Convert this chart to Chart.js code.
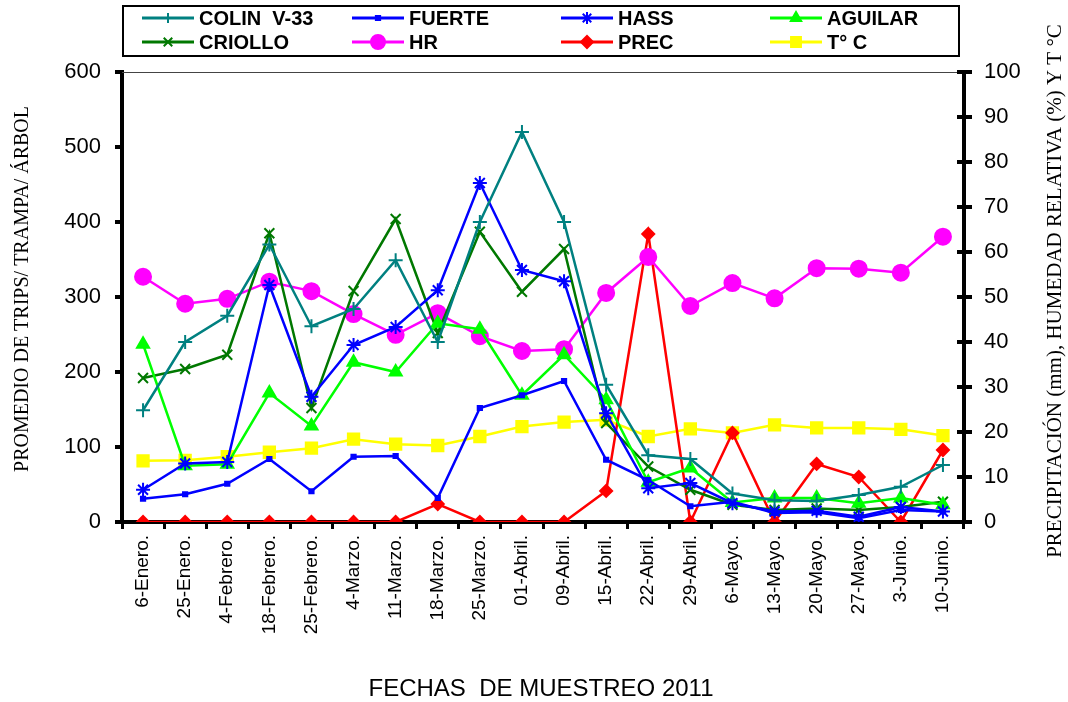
<!DOCTYPE html>
<html>
<head>
<meta charset="utf-8">
<script src="https://cdn.jsdelivr.net/npm/chart.js@4"></script>
<style>
  html, body { margin: 0; padding: 0; background: #fff; }
  #wrap { width: 1068px; height: 702px; }
</style>
</head>
<body>
<div id="wrap"><canvas id="chart" width="1068" height="702"></canvas></div>
<script>
const fechas = ["6-Enero.", "25-Enero.", "4-Febrero.", "18-Febrero.", "25-Febrero.", "4-Marzo.",
  "11-Marzo.", "18-Marzo.", "25-Marzo.", "01-Abril.", "09-Abril.", "15-Abril.", "22-Abril.",
  "29-Abril.", "6-Mayo.", "13-Mayo.", "20-Mayo.", "27-Mayo.", "3-Junio.", "10-Junio."];

// trips por trampa (eje izquierdo)
const colin   = [149, 240, 275, 370, 261, 284, 349, 240, 400, 520, 400, 183, 89, 84, 38, 29, 28, 36, 47, 76];
const fuerte  = [31, 37, 51, 84, 41, 87, 88, 32, 152, 169, 188, 83, 56, 21, 27, 12, 13, 5, 16, 14];
const hass    = [43, 78, 80, 316, 167, 236, 260, 309, 452, 336, 321, 145, 45, 52, 25, 14, 15, 7, 20, 14];
const aguilar = [237, 75, 77, 172, 128, 213, 200, 265, 257, 169, 223, 163, 53, 72, 26, 32, 32, 25, 32, 23];
const criollo = [192, 204, 223, 385, 152, 308, 404, 252, 387, 307, 364, 132, 74, 43, 23, 16, 18, 16, 20, 27];

// clima (eje derecho)
const hr    = [54.5, 48.5, 49.6, 53.4, 51.3, 46.2, 41.6, 46.4, 41.3, 38, 38.4, 50.9, 58.9, 48, 53.1, 49.7, 56.4, 56.3, 55.4, 63.4];
const prec  = [0, 0, 0, 0, 0, 0, 0, 4, 0, 0, 0, 6.9, 64, 0, 19.8, 0, 12.9, 10, 0, 16];
const tempC = [13.6, 13.7, 14.5, 15.5, 16.4, 18.4, 17.3, 17, 19, 21.2, 22.2, 22.7, 19, 20.7, 19.8, 21.6, 20.9, 20.9, 20.6, 19.2];

const leftTicks = [0, 100, 200, 300, 400, 500, 600];
const rightTicks = [0, 10, 20, 30, 40, 50, 60, 70, 80, 90, 100];

function serie(label, data, color, style, radius, axis, legendRadius) {
  return {
    label: label, data: data, yAxisID: axis,
    borderColor: color, backgroundColor: color,
    pointStyle: style, pointRadius: radius, pointHoverRadius: radius,
    pointBorderColor: color, pointBackgroundColor: color, pointBorderWidth: 2,
    borderWidth: 2.5, tension: 0, fill: false,
    legendRadius: legendRadius
  };
}

const datasets = [
  serie("COLIN  V-33", colin, "#008080", "cross", 7, "y", 5),
  serie("FUERTE", fuerte, "#0000ff", "rect", 3, "y", 3),
  serie("HASS", hass, "#0000ff", "star", 7, "y", 6),
  serie("AGUILAR", aguilar, "#00ff00", "triangle", 7, "y", 6),
  serie("CRIOLLO", criollo, "#007800", "crossRot", 7, "y", 6),
  serie("HR", hr, "#ff00ff", "circle", 8, "y1", 7),
  serie("PREC", prec, "#ff0000", "rectRot", 6, "y1", 6),
  serie("T° C", tempC, "#ffff00", "rect", 8, "y1", 7)
];

// marco, leyenda y titulos
const extras = {
  id: "extras",
  afterDraw(chart) {
    const ctx = chart.ctx;
    const a = chart.chartArea;
    ctx.save();
    // linea superior delgada
    ctx.strokeStyle = "#444";
    ctx.lineWidth = 1;
    ctx.beginPath();
    ctx.moveTo(a.left, a.top + 0.5);
    ctx.lineTo(a.right, a.top + 0.5);
    ctx.stroke();

    // marcas del eje derecho cruzando la linea
    const y1 = chart.scales.y1;
    ctx.strokeStyle = "#000";
    ctx.lineWidth = 4;
    rightTicks.forEach(v => {
      const py = y1.getPixelForValue(v);
      ctx.beginPath();
      ctx.moveTo(a.right - 7, py);
      ctx.lineTo(a.right + 8, py);
      ctx.stroke();
    });

    // caja de leyenda
    ctx.strokeStyle = "#000";
    ctx.lineWidth = 2;
    ctx.strokeRect(123, 6, 836, 50);
    const cols = [142, 352, 561, 770];
    const rows = [18, 42];
    ctx.font = "bold 20px 'Liberation Sans', Arial, sans-serif";
    ctx.textBaseline = "middle";
    ctx.textAlign = "left";
    datasets.forEach((d, i) => {
      const x = cols[i % 4], y = rows[Math.floor(i / 4)];
      ctx.strokeStyle = d.borderColor;
      ctx.fillStyle = d.borderColor;
      ctx.lineWidth = 3;
      ctx.beginPath();
      ctx.moveTo(x, y);
      ctx.lineTo(x + 52, y);
      ctx.stroke();
      ctx.lineWidth = 2;
      Chart.helpers.drawPoint(ctx, {
        pointStyle: d.pointStyle, radius: d.legendRadius, borderWidth: 2, rotation: 0
      }, x + 26, y);
      ctx.fillStyle = "#000";
      ctx.fillText(d.label, x + 57, y + 1);
    });

    // titulos de ejes
    ctx.fillStyle = "#000";
    ctx.textAlign = "center";
    ctx.textBaseline = "middle";
    ctx.font = "20px 'Liberation Serif', 'Times New Roman', serif";
    ctx.save();
    ctx.translate(23, 289);
    ctx.rotate(-Math.PI / 2);
    ctx.fillText("PROMEDIO DE TRIPS/ TRAMPA/ ÁRBOL", 0, 0);
    ctx.restore();
    ctx.save();
    ctx.font = "21px 'Liberation Serif', 'Times New Roman', serif";
    ctx.translate(1055, 291);
    ctx.rotate(-Math.PI / 2);
    ctx.fillText("PRECIPITACIÓN (mm), HUMEDAD RELATIVA (%) Y T °C", 0, 0);
    ctx.restore();

    ctx.font = "24px 'Liberation Sans', Arial, sans-serif";
    ctx.fillText("FECHAS  DE MUESTREO 2011", 541, 689);
    ctx.restore();
  }
};

new Chart(document.getElementById("chart").getContext("2d"), {
  type: "line",
  data: { labels: fechas, datasets: datasets },
  plugins: [extras],
  options: {
    responsive: false,
    animation: false,
    layout: { padding: { top: 72, left: 0, right: 0, bottom: 0 } },
    plugins: { legend: { display: false }, tooltip: { enabled: false } },
    scales: {
      x: {
        offset: true,
        grid: { offset: true, drawOnChartArea: false, color: "#000", lineWidth: 3, tickLength: 7 },
        border: { color: "#000", width: 4 },
        ticks: {
          color: "#000", minRotation: 90, maxRotation: 90, autoSkip: false, padding: 6,
          font: { family: "'Liberation Sans', Arial, sans-serif", size: 19 }
        },
        afterFit(s) { s.height = 180; }
      },
      y: {
        position: "left", min: 0, max: 600,
        afterBuildTicks(s) { s.ticks = leftTicks.map(v => ({ value: v })); },
        grid: { drawOnChartArea: false, color: "#000", lineWidth: 4, tickLength: 7 },
        border: { color: "#000", width: 4 },
        ticks: {
          color: "#000", padding: 14,
          font: { family: "'Liberation Sans', Arial, sans-serif", size: 22 }
        },
        afterFit(s) { s.width = 122; }
      },
      y1: {
        position: "right", min: 0, max: 100,
        afterBuildTicks(s) { s.ticks = rightTicks.map(v => ({ value: v })); },
        grid: { drawOnChartArea: false, color: "#000", lineWidth: 4, tickLength: 8 },
        border: { color: "#000", width: 4 },
        ticks: {
          color: "#000", padding: 12,
          font: { family: "'Liberation Sans', Arial, sans-serif", size: 22 }
        },
        afterFit(s) { s.width = 104; }
      }
    }
  }
});
</script>
</body>
</html>
